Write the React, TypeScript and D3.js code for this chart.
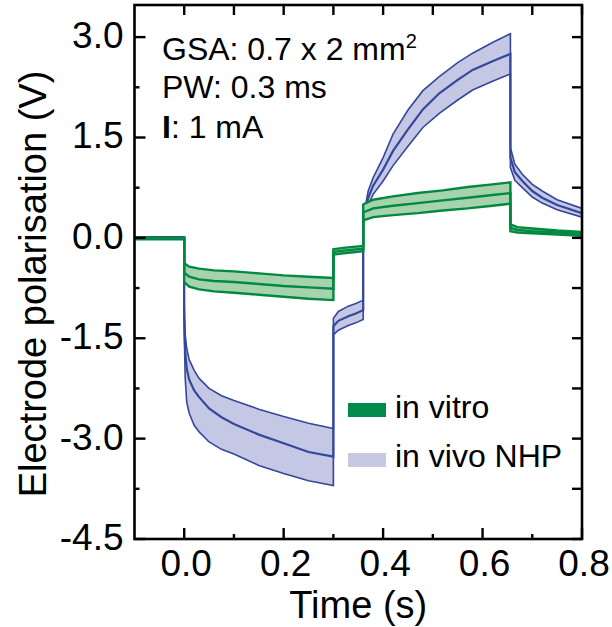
import React from "react";
import * as d3 from "d3";

// ---- in vivo NHP (blue) : time (s), mean, lower, upper (V)
const vivoT = [-0.1, 0, 0, 0.002, 0.005, 0.01, 0.02, 0.03, 0.05, 0.075, 0.1, 0.15, 0.2, 0.25, 0.3, 0.3, 0.31, 0.33, 0.345, 0.36, 0.36, 0.37, 0.38, 0.4, 0.42, 0.45, 0.48, 0.513, 0.55, 0.58, 0.62, 0.656, 0.656, 0.665, 0.68, 0.7, 0.72, 0.75, 0.8];
const vivoMean = [0.01, 0.01, -1.2, -1.7, -1.95, -2.12, -2.28, -2.38, -2.55, -2.68, -2.78, -2.94, -3.07, -3.2, -3.27, -1.32, -1.24, -1.17, -1.13, -1.08, 0.25, 0.6, 0.78, 1.02, 1.3, 1.62, 1.92, 2.16, 2.36, 2.51, 2.64, 2.75, 1.2, 0.98, 0.85, 0.7, 0.6, 0.49, 0.37];
const vivoLow = [0.01, 0.01, -1.4, -2.1, -2.45, -2.62, -2.8, -2.9, -3.05, -3.16, -3.23, -3.4, -3.52, -3.63, -3.7, -1.45, -1.38, -1.31, -1.27, -1.22, 0.2, 0.5, 0.65, 0.85, 1.08, 1.37, 1.65, 1.86, 2.06, 2.21, 2.34, 2.45, 1.05, 0.86, 0.75, 0.61, 0.52, 0.42, 0.31];
const vivoHigh = [0.01, 0.01, -1.0, -1.45, -1.65, -1.82, -1.98, -2.1, -2.25, -2.36, -2.43, -2.56, -2.67, -2.77, -2.85, -1.2, -1.1, -1.02, -0.98, -0.93, 0.3, 0.7, 0.9, 1.2, 1.55, 1.91, 2.2, 2.41, 2.62, 2.76, 2.92, 3.05, 1.35, 1.1, 0.95, 0.8, 0.7, 0.57, 0.44];

// ---- in vitro (green)
const vitroT = [-0.1, 0, 0, 0.01, 0.03, 0.06, 0.1, 0.15, 0.2, 0.25, 0.3, 0.3, 0.32, 0.34, 0.36, 0.36, 0.38, 0.42, 0.47, 0.52, 0.57, 0.62, 0.656, 0.656, 0.67, 0.7, 0.75, 0.8];
const vitroMean = [-0.01, -0.01, -0.52, -0.58, -0.62, -0.645, -0.66, -0.69, -0.72, -0.74, -0.76, -0.21, -0.19, -0.175, -0.16, 0.38, 0.44, 0.48, 0.52, 0.56, 0.6, 0.64, 0.67, 0.15, 0.12, 0.1, 0.08, 0.06];
const vitroLow = [-0.02, -0.02, -0.66, -0.73, -0.77, -0.8, -0.82, -0.85, -0.88, -0.91, -0.93, -0.25, -0.23, -0.215, -0.2, 0.26, 0.31, 0.34, 0.37, 0.41, 0.44, 0.48, 0.51, 0.1, 0.08, 0.07, 0.05, 0.03];
const vitroHigh = [0, 0, -0.38, -0.43, -0.46, -0.485, -0.5, -0.53, -0.56, -0.58, -0.6, -0.17, -0.15, -0.135, -0.12, 0.5, 0.57, 0.62, 0.67, 0.71, 0.76, 0.8, 0.83, 0.2, 0.16, 0.14, 0.11, 0.09];

// ---- axes
const yTicks = [-4.5, -3, -1.5, 0, 1.5, 3];
const yTickLabels = ["-4.5", "-3.0", "-1.5", "0.0", "1.5", "3.0"];
const yMinor = [-3.75, -2.25, -0.75, 0.75, 2.25];
const xTicks = [0, 0.2, 0.4, 0.6, 0.8];
const xTickLabels = ["0.0", "0.2", "0.4", "0.6", "0.8"];
const xMinor = [0.1, 0.3, 0.5, 0.7];

const legendLabels = ["in vitro", "in vivo NHP"];

const FONT = "'Liberation Sans', Arial, Helvetica, sans-serif";
const BLUE = "#34479b";
const BLUE_FILL = "#c5c8e4";
const GREEN = "#00893f";
const GREEN_FILL = "#a6d3ae";

export default function App() {
  const W = 612, H = 627;
  const L = 134.5, R = 582, T = 5, B = 539;
  const x = d3.scaleLinear().domain([-0.1, 0.8]).range([L, R]);
  const y = d3.scaleLinear().domain([-4.5, 3.48]).range([B, T]);

  const mk = (ts: number[], vs: number[]) => ts.map((t, i) => [t, vs[i]] as [number, number]);
  const line = d3.line<[number, number]>().x(d => x(d[0])).y(d => y(d[1]));
  const area = (ts: number[], lo: number[], hi: number[]) =>
    d3.area<number>().x(i => x(ts[i])).y0(i => y(lo[i])).y1(i => y(hi[i]))(ts.map((_, i) => i)) || "";

  const allX = [...xTicks, ...xMinor];
  const allY = [...yTicks, ...yMinor];

  return (
    <svg width={W} height={H} style={{ position: "absolute", left: 0, top: 0, background: "#fff" }} fontFamily={FONT}>
      <defs>
        <clipPath id="plot"><rect x={L} y={T} width={R - L} height={B - T} /></clipPath>
      </defs>
      <g clipPath="url(#plot)">
        {/* in vivo */}
        <path d={area(vivoT, vivoLow, vivoHigh)} fill={BLUE_FILL} stroke="none" />
        <path d={line(mk(vivoT, vivoLow)) || ""} fill="none" stroke={BLUE} strokeWidth={1.6} />
        <path d={line(mk(vivoT, vivoHigh)) || ""} fill="none" stroke={BLUE} strokeWidth={1.6} />
        <path d={line(mk(vivoT, vivoMean)) || ""} fill="none" stroke={BLUE} strokeWidth={2.2} />
        {/* in vitro */}
        <path d={area(vitroT, vitroLow, vitroHigh)} fill={GREEN_FILL} stroke="none" />
        <path d={line(mk(vitroT, vitroLow)) || ""} fill="none" stroke={GREEN} strokeWidth={2.4} />
        <path d={line(mk(vitroT, vitroHigh)) || ""} fill="none" stroke={GREEN} strokeWidth={2.4} />
        <path d={line(mk(vitroT, vitroMean)) || ""} fill="none" stroke={GREEN} strokeWidth={2.4} />
      </g>

      {/* ticks */}
      {yTicks.map(v => <line key={"yl" + v} x1={L} x2={L + 11} y1={y(v)} y2={y(v)} stroke="#000" strokeWidth={2.4} />)}
      {yMinor.map(v => <line key={"ym" + v} x1={L} x2={L + 5} y1={y(v)} y2={y(v)} stroke="#000" strokeWidth={2.4} />)}
      {allY.map(v => <line key={"yr" + v} x1={R - 10} x2={R} y1={y(v)} y2={y(v)} stroke="#000" strokeWidth={2.4} />)}
      {xTicks.map(v => <line key={"xb" + v} x1={x(v)} x2={x(v)} y1={B} y2={B - 11} stroke="#000" strokeWidth={2.4} />)}
      {xMinor.map(v => <line key={"xm" + v} x1={x(v)} x2={x(v)} y1={B} y2={B - 5} stroke="#000" strokeWidth={2.4} />)}
      {allX.map(v => <line key={"xt" + v} x1={x(v)} x2={x(v)} y1={T} y2={T + 10} stroke="#000" strokeWidth={2.4} />)}

      <rect x={L} y={T} width={R - L} height={B - T} fill="none" stroke="#000" strokeWidth={2.6} />

      {/* tick labels */}
      {yTicks.map((v, i) => (
        <text key={"ytl" + v} x={L - 11} y={y(v) + 11} textAnchor="end" fontSize={37}>{yTickLabels[i]}</text>
      ))}
      {xTicks.map((v, i) => (
        <text key={"xtl" + v} x={x(v) + 2} y={B + 37} textAnchor="middle" fontSize={37}>{xTickLabels[i]}</text>
      ))}

      {/* axis titles */}
      <text x={(L + R) / 2} y={618} textAnchor="middle" fontSize={38}>Time (s)</text>
      <text transform={`translate(46, ${(y(-4.5) + y(3.48)) / 2 + 12}) rotate(-90)`} textAnchor="middle" fontSize={38}>Electrode polarisation (V)</text>

      {/* annotation */}
      <text x={162} y={60} fontSize={32}>GSA: 0.7 x 2 mm<tspan fontSize={20} dy={-12}>2</tspan></text>
      <text x={162} y={98} fontSize={32}>PW: 0.3 ms</text>
      <text x={162} y={138} fontSize={32}><tspan fontWeight="bold">I</tspan>: 1 mA</text>

      {/* legend */}
      <rect x={348} y={403} width={38} height={14} fill="#008a4b" />
      <text x={395} y={418} fontSize={32}>{legendLabels[0]}</text>
      <rect x={348} y={453} width={38} height={14} fill="#c7c9e2" />
      <text x={395} y={467} fontSize={32}>{legendLabels[1]}</text>
    </svg>
  );
}
